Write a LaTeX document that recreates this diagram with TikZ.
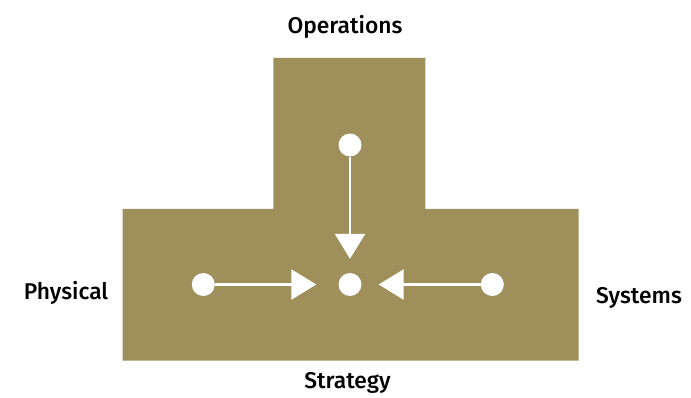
\documentclass[tikz,border=0pt]{standalone}
\usepackage{fontspec}
\setmainfont{Fira Sans Medium}
\usetikzlibrary{arrows.meta}
\definecolor{olive}{HTML}{9F8F5B}
\tikzset{
  dot/.style={circle, fill=white, draw=none, minimum size=23pt, inner sep=0pt},
  flow/.style={white, line width=2.6pt, -{Triangle[length=25pt,width=30pt]}},
  lab/.style={anchor=base, font=\fontsize{22.8}{27}\selectfont, text=black, inner sep=0pt}
}
\begin{document}
\begin{tikzpicture}[x=1pt,y=-1pt]
\useasboundingbox (0,0) rectangle (691,398);
\fill[olive] (122.7,360.7) -- (122.7,209) -- (273.3,209) -- (273.3,58) -- (425.3,58) -- (425.3,209) -- (578.7,209) -- (578.7,360.7) -- cycle;
\node[dot] (top) at (350,145) {};
\node[dot] (mid) at (350,284.5) {};
\node[dot] (left) at (203.3,284.5) {};
\node[dot] (right) at (492.3,284.5) {};
\draw[flow, shorten >=14pt] (top) -- (mid);
\draw[flow, shorten >=22pt] (left) -- (mid);
\draw[flow, shorten >=17pt] (right) -- (mid);
\node[lab] (ops) at (345,33.3) {Operations};
\node[lab] (phy) at (66,299) {Physical};
\node[lab] (sys) at (639,303) {Systems};
\node[lab] (str) at (347.5,388.3) {Strategy};
\end{tikzpicture}
\end{document}
